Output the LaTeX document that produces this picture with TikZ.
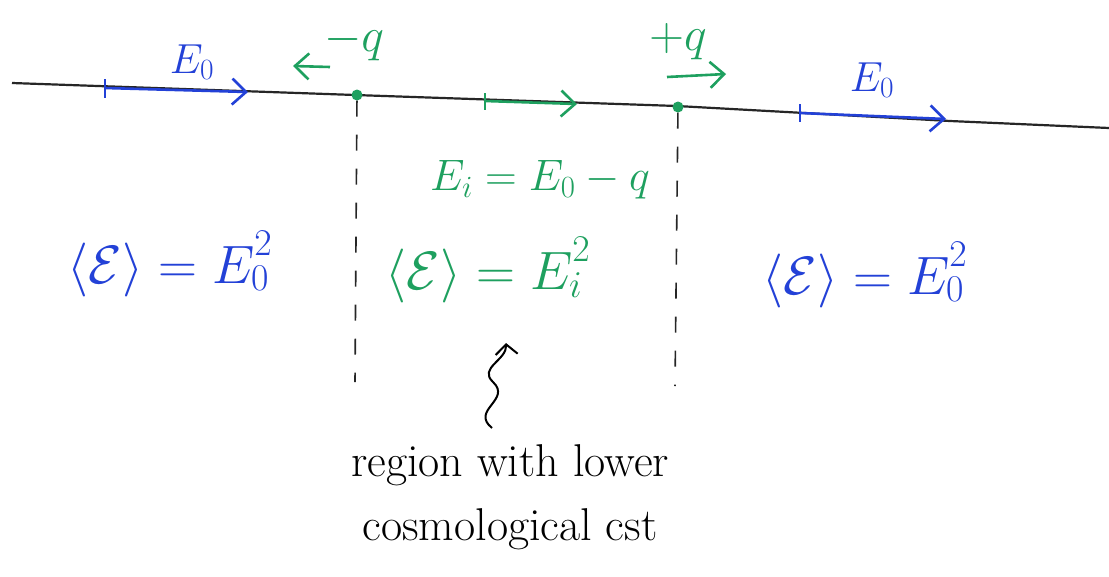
\RequirePackage{fix-cm}
\documentclass[tikz,border=0pt]{standalone}
\usetikzlibrary{arrows.meta}
\definecolor{pblue}{RGB}{35,65,215}
\definecolor{pgreen}{RGB}{30,160,95}
\tikzset{
  axis/.style={line width=2.2pt, black!85},
  vec/.style={line width=2.6pt, -{Straight Barb[length=14pt,width=26pt,line width=2.6pt]}},
  tickmark/.style={line width=2.4pt},
  charge/.style={circle, fill=pgreen, inner sep=0pt, minimum size=11pt},
  vline/.style={line width=1.6pt, black!85, dash pattern=on 16pt off 18pt},
  lab/.style={font=\fontsize{42}{50}\selectfont, inner sep=0pt},
  qlab/.style={font=\fontsize{48}{54}\selectfont, inner sep=0pt},
  biglab/.style={font=\fontsize{54}{60}\selectfont, inner sep=0pt},
  note/.style={font=\fontsize{46}{64}\selectfont, align=center, inner sep=0pt}
}
\begin{document}
\begin{tikzpicture}[x=1pt,y=-1pt]
\useasboundingbox[fill=white] (0,0) rectangle (1109,576);
% main line
\coordinate (L0) at (12,83);
\coordinate (L4) at (1109,128);
\draw[axis] (L0) -- (355,95) -- (677,106) -- (950,121) -- (L4);
% charges
\node[charge] (qm) at (357,95) {};
\node[charge] (qp) at (678,107) {};
% left E0 arrow
\coordinate (a1) at (105,88);
\coordinate (a2) at (248,92);
\draw[pblue,vec] (a1) -- (a2);
\draw[pblue,tickmark] (105,79) -- (105,98);
\node[lab,pblue] (e0l) at (192,62) {$E_0$};
% middle green arrow
\coordinate (b1) at (485,101);
\coordinate (b2) at (577,104);
\draw[pgreen,vec] (b1) -- (b2);
\draw[pgreen,tickmark] (485,93) -- (485,110);
% right E0 arrow
\coordinate (c1) at (800,113);
\coordinate (c2) at (946,119);
\draw[pblue,vec] (c1) -- (c2);
\draw[pblue,tickmark] (800,104) -- (800,122);
\node[lab,pblue] (e0r) at (872,80) {$E_0$};
% charge labels and arrows
\node[qlab,pgreen] (lqm) at (354,42) {$-q$};
\coordinate (m1) at (330,67);
\coordinate (m2) at (293,66);
\draw[pgreen,vec] (m1) -- (m2);
\node[qlab,pgreen] (lqp) at (678,42) {$+q$};
\coordinate (p1) at (667,77);
\coordinate (p2) at (726,74);
\draw[pgreen,vec] (p1) -- (p2);
% dashed walls
\coordinate (w1b) at (355,382);
\coordinate (w2b) at (675,386);
\draw[vline] (qm) -- (w1b);
\draw[vline] (qp) -- (w2b);
% labels
\node[lab,pgreen,font=\fontsize{44}{50}\selectfont] (ei) at (540,180) {$E_i = E_0 - q$};
\node[biglab,pblue] (el) at (170,262) {$\langle\mathcal{E}\rangle = E_0^{2\vphantom{)}}$};
\node[biglab,pgreen] (em) at (488,268) {$\langle\mathcal{E}\rangle = E_i^{2\vphantom{)}}$};
\node[biglab,pblue] (er) at (865,273) {$\langle\mathcal{E}\rangle = E_0^{2\vphantom{)}}$};
% note
\node[note] (note) at (510,497) {region with lower\\cosmological cst};
\coordinate (s0) at (492,428);
\coordinate (s3) at (506,343);
\draw[line width=2pt, -{Straight Barb[length=10pt,width=22pt,line width=2pt]}]
  (s0) .. controls (470,410) and (512,400) .. (493,382)
       .. controls (478,368) and (507,360) .. (s3);
\end{tikzpicture}
\end{document}
